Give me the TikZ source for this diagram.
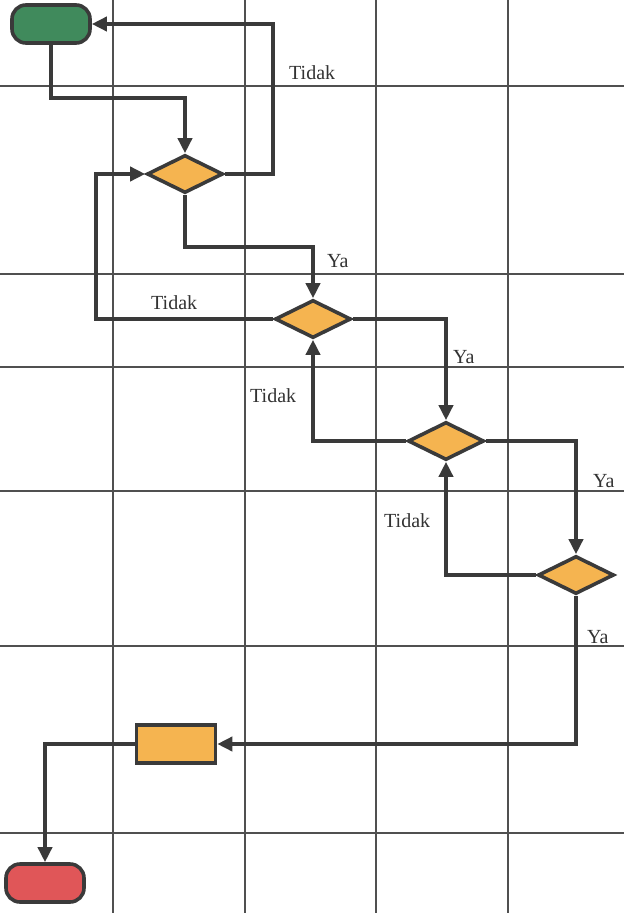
\documentclass[tikz,border=0pt]{standalone}
\usepackage{fontspec}
\setmainfont{Liberation Serif}
\usetikzlibrary{shapes.geometric,arrows.meta}
\definecolor{lineg}{HTML}{3A3A3A}
\definecolor{gridg}{HTML}{505050}
\definecolor{startg}{HTML}{408A5C}
\definecolor{decor}{HTML}{F5B450}
\definecolor{endr}{HTML}{E05658}
\tikzset{
  gridline/.style={gridg, line width=1.3pt},
  term/.style={rectangle, rounded corners=14pt, draw=lineg, line width=3.6pt, minimum width=78pt, minimum height=38pt, inner sep=0pt},
  dec/.style={diamond, aspect=2, draw=lineg, line width=3.6pt, fill=decor, minimum width=76pt, minimum height=38pt, inner sep=0pt},
  procbox/.style={rectangle, draw=lineg, line width=3.6pt, fill=decor, minimum width=79pt, minimum height=38pt, inner sep=0pt},
  arr/.style={draw=lineg, line width=3.6pt, -{Triangle[length=15pt,width=14pt]}},
  lbl/.style={anchor=base west, inner sep=0pt, text=black!80, font=\fontsize{20}{22}\selectfont}
}
\begin{document}
\begin{tikzpicture}[x=1pt,y=-1pt]
\useasboundingbox (0,0) rectangle (624,913);
\fill[white] (0,0) rectangle (624,913);
% grid
\foreach \gx in {113,245,376,508} { \draw[gridline] (\gx,0) -- (\gx,913); }
\foreach \gy in {86,274,367,491,646,833} { \draw[gridline] (0,\gy) -- (624,\gy); }
% nodes
\node[term, fill=startg] (start) at (51,24) {};
\node[dec] (d1) at (185,174) {};
\node[dec] (d2) at (313,319) {};
\node[dec] (d3) at (446,441) {};
\node[dec] (d4) at (576,575) {};
\node[procbox] (proc) at (176,744) {};
\node[term, fill=endr] (stop) at (45,883) {};
% connectors
\draw[arr] (start.south) -- (start.south |- 0,98) -| (d1.north);
\draw[arr] (d1.east) -| (273,60) |- (start.east);
\draw[arr] (d1.south) -- (d1.south |- 0,247) -| (d2.north);
\draw[arr] (d2.west) -| (96,240) |- (d1.west);
\draw[arr] (d2.east) -| (d3.north);
\draw[arr] (d3.west) -| (d2.south);
\draw[arr] (d3.east) -| (d4.north);
\draw[arr] (d4.west) -| (d3.south);
\draw[arr] (d4.south) |- (proc.east);
\draw[arr] (proc.west) -| (stop.north);
% labels
\node[lbl] (t1) at (289,79) {Tidak};
\node[lbl] (y1) at (327,267) {Ya};
\node[lbl] (t2) at (151,309) {Tidak};
\node[lbl] (y2) at (453,363) {Ya};
\node[lbl] (t3) at (250,402) {Tidak};
\node[lbl] (y3) at (593,487) {Ya};
\node[lbl] (t4) at (384,527) {Tidak};
\node[lbl] (y4) at (587,643) {Ya};
\end{tikzpicture}
\end{document}
